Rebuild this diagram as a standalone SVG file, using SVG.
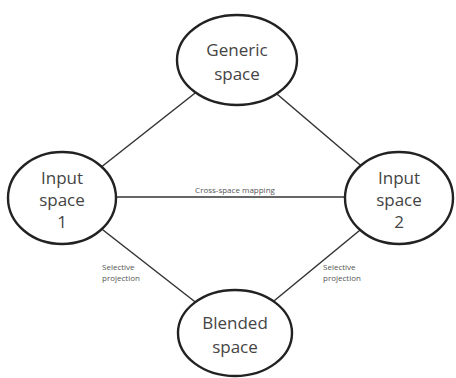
<svg xmlns="http://www.w3.org/2000/svg" width="456" height="378" viewBox="0 0 456 378">
<style>
.n{fill:#fff;stroke:#222;stroke-width:2.4}
.t{font-family:"Open Sans",sans-serif;font-size:17px;fill:#444;text-anchor:middle}
.s{font-family:"Open Sans",sans-serif;font-size:8px;fill:#555}
.c line{stroke:#333;stroke-width:1.5}
</style>
<rect width="456" height="378" fill="#fff"/>
<g class="c" id="connectors">
<line x1="62" y1="198" x2="237" y2="60"/>
<line x1="237" y1="60" x2="399" y2="198"/>
<line x1="62" y1="197" x2="399" y2="197"/>
<line x1="62" y1="198" x2="235" y2="333"/>
<line x1="399" y1="198" x2="235" y2="333"/>
</g>
<text class="s" x="235" y="193" text-anchor="middle">Cross-space mapping</text>
<text class="s" x="102" y="270">Selective</text>
<text class="s" x="102" y="281">projection</text>
<text class="s" x="323" y="270">Selective</text>
<text class="s" x="323" y="281">projection</text>
<g id="generic"><ellipse class="n" cx="237" cy="60" rx="60" ry="45"/><text class="t" x="237" y="56">Generic</text><text class="t" x="237" y="80">space</text></g>
<g id="input1"><ellipse class="n" cx="62" cy="198" rx="54" ry="46"/><text class="t" x="62" y="184">Input</text><text class="t" x="62" y="206">space</text><text class="t" x="62" y="228">1</text></g>
<g id="input2"><ellipse class="n" cx="399" cy="198" rx="54" ry="46"/><text class="t" x="399" y="184">Input</text><text class="t" x="399" y="206">space</text><text class="t" x="399" y="228">2</text></g>
<g id="blended"><ellipse class="n" cx="235" cy="333" rx="57" ry="43"/><text class="t" x="235" y="329">Blended</text><text class="t" x="235" y="353">space</text></g>
</svg>
